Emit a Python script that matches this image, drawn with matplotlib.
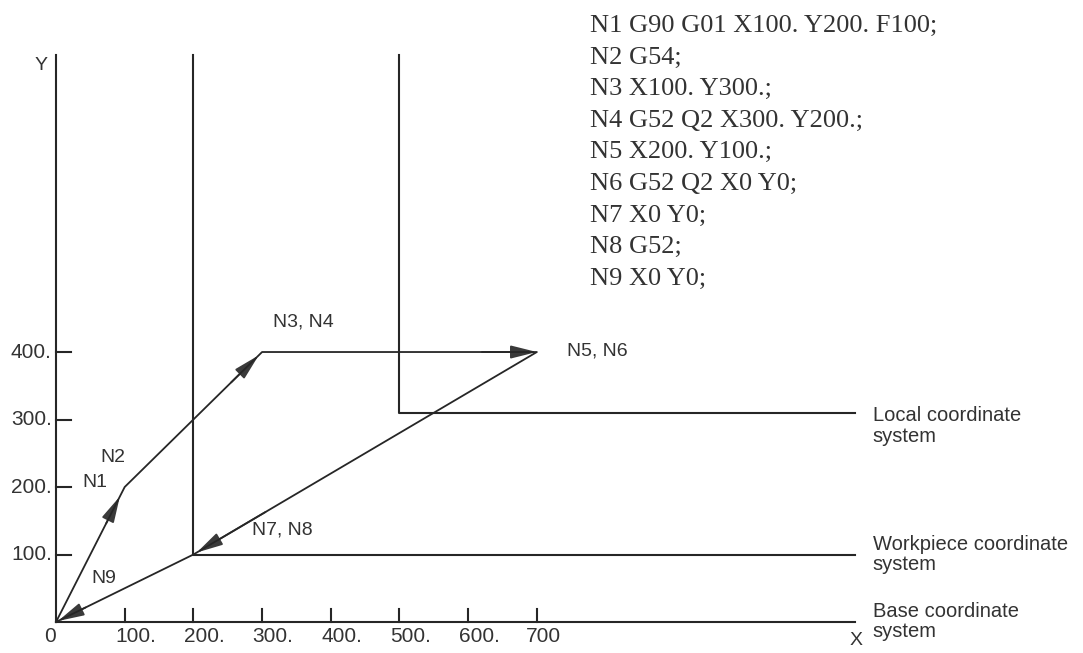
import matplotlib.pyplot as plt
from matplotlib.patches import FancyArrowPatch

plt.rcParams['font.family'] = ['Liberation Sans', 'DejaVu Sans']

# tool path (base coordinates)
path_x = [0, 100, 300, 700, 200, 0]
path_y = [0, 200, 400, 400, 100, 0]
# where along each segment the arrow tip sits
tip_frac = [0.93, 0.975, 1.0, 0.99, 0.985]

x_ticks = [0, 100, 200, 300, 400, 500, 600, 700]
x_tick_labels = ['0', '100.', '200.', '300.', '400.', '500.', '600.', '700']
y_ticks = [100, 200, 300, 400]
y_tick_labels = ['100.', '200.', '300.', '400.']

workpiece_origin = (200, 100)
local_origin = (500, 310)

block_labels = ['N1', 'N2', 'N3, N4', 'N5, N6', 'N7, N8', 'N9']
block_pos = [(57, 206), (83, 243), (316, 444), (744, 401), (285, 136), (69, 65)]

program = [
    'N1 G90 G01 X100. Y200. F100;',
    'N2 G54;',
    'N3 X100. Y300.;',
    'N4 G52 Q2 X300. Y200.;',
    'N5 X200. Y100.;',
    'N6 G52 Q2 X0 Y0;',
    'N7 X0 Y0;',
    'N8 G52;',
    'N9 X0 Y0;',
]

system_names = ['Local coordinate\nsystem', 'Workpiece coordinate\nsystem', 'Base coordinate\nsystem']
system_label_top = [320, 129, 30]

line_c = '#262626'
text_c = '#333333'
x_end = 1163
y_top = 840

fig = plt.figure(figsize=(10.83, 6.53), dpi=100)
ax = fig.add_axes([0, 0, 1, 1])
ax.set_xlim(-81.5, 1495)
ax.set_ylim(-45.9, 921.5)
ax.axis('off')

# base coordinate system
ax.plot([0, 0], [0, y_top], color=line_c, lw=1.5)
ax.plot([0, x_end], [0, 0], color=line_c, lw=1.5)
for xt, lab in zip(x_ticks, x_tick_labels):
    if xt > 0:
        ax.plot([xt, xt], [0, 20], color=line_c, lw=1.5)
    off = -9 if xt == 0 else (9 if lab.endswith('0') else 16)
    ax.text(xt + off, -21, lab, ha='center', va='center', fontsize=15, color=text_c)
for yt, lab in zip(y_ticks, y_tick_labels):
    ax.plot([0, 22], [yt, yt], color=line_c, lw=1.5)
    ax.text(-6, yt, lab, ha='right', va='center', fontsize=15, color=text_c)
ax.text(-22, 825, 'Y', ha='center', va='center', fontsize=14, color=text_c)
ax.text(1164, -28, 'X', ha='center', va='center', fontsize=14, color=text_c)

# workpiece and local coordinate systems
for ox, oy in [workpiece_origin, local_origin]:
    ax.plot([ox, ox, x_end], [y_top, oy, oy], color=line_c, lw=1.5)

# tool path with arrows
ax.plot(path_x, path_y, color=line_c, lw=1.3)
for i in range(len(path_x) - 1):
    x0, y0, x1, y1 = path_x[i], path_y[i], path_x[i + 1], path_y[i + 1]
    f = tip_frac[i]
    tx, ty = x0 + f * (x1 - x0), y0 + f * (y1 - y0)
    sx, sy = x0 + (f - 0.2) * (x1 - x0), y0 + (f - 0.2) * (y1 - y0)
    arr = FancyArrowPatch((sx, sy), (tx, ty), arrowstyle='-|>,head_length=1.6,head_width=0.4',
                          mutation_scale=10, color='#3a3a3a', lw=1.3, shrinkA=0, shrinkB=0)
    ax.add_patch(arr)

for lab, (bx, by) in zip(block_labels, block_pos):
    ha = 'center' if lab in ('N1', 'N2', 'N9') else 'left'
    ax.text(bx, by, lab, ha=ha, va='center', fontsize=14, color=text_c)

for lab, top in zip(system_names, system_label_top):
    ax.text(1189, top, lab, ha='left', va='top', fontsize=14.5, color=text_c, linespacing=1.1)

# NC program
for k, line in enumerate(program):
    ax.text(777, 874 - k * 46.8, line, ha='left', va='baseline', fontsize=19,
            family='Liberation Serif', color=text_c)

fig.savefig('out.png', dpi=100)
